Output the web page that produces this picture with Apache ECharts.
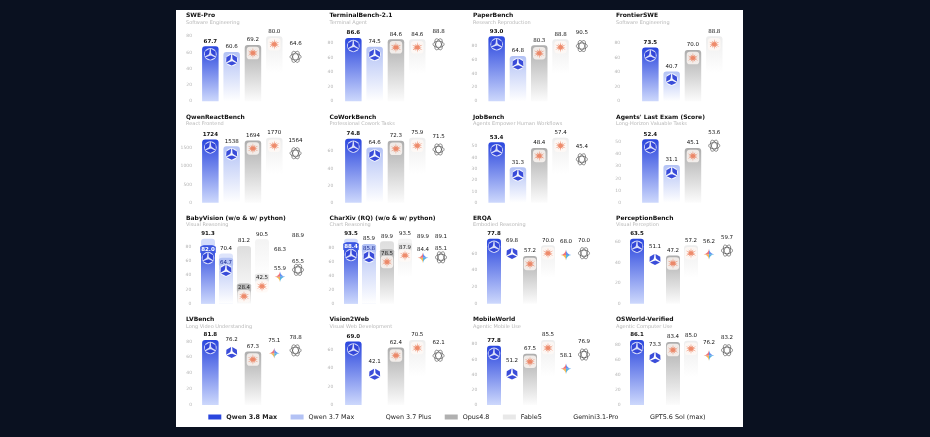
<!DOCTYPE html>
<html><head><meta charset="utf-8">
<style>html,body{margin:0;padding:0;background:#0a1120}#c{width:930px;height:437px}</style>
<script src="https://cdn.jsdelivr.net/npm/echarts@6/dist/echarts.min.js"></script>
</head><body><div id="c"></div>
<script>
const benchmarks = ['SWE-Pro','TerminalBench-2.1','PaperBench','FrontierSWE','QwenReactBench','CoWorkBench','JobBench',"Agents' Last Exam (Score)",'BabyVision (w/o & w/ python)','CharXiv (RQ) (w/o & w/ python)','ERQA','PerceptionBench','LVBench','Vision2Web','MobileWorld','OSWorld-Verified'];
const subtitles = ['Software Engineering','Terminal Agent','Research Reproduction','Software Engineering','React Frontend','Professional Cowork Tasks','Agents Empower Human Workflows','Long-Horizon Valuable Tasks','Visual Reasoning','Chart Reasoning','Embodied Reasoning','Visual Perception','Long Video Understanding','Visual Web Development','Agentic Mobile Use','Agentic Computer Use'];
const modelNames = ['Qwen 3.8 Max','Qwen 3.7 Max','Qwen 3.7 Plus','Opus4.8','Fable5','Gemini3.1-Pro','GPT5.6 Sol (max)'];
const qwen38 =  [67.7,86.6,93.0,73.5,1724,74.8,53.4,52.4,82.0,88.4,77.8,63.5,81.8,69.0,77.8,86.1];
const qwen37 =  [60.6,74.5,64.8,40.7,1538,64.6,31.3,31.1,64.7,85.8,null,null,null,null,null,null];
const plus37 =  [null,null,null,null,null,null,null,null,null,null,69.8,51.1,76.2,42.1,51.2,73.3];
const opus48 =  [69.2,84.6,80.3,70.0,1694,72.3,48.4,45.1,28.4,78.5,57.2,47.2,67.3,62.4,67.5,83.4];
const fable5 =  [80.0,84.6,88.8,88.8,1770,75.9,57.4,null,42.5,87.9,70.0,57.2,null,70.5,85.5,85.0];
const gemini =  [null,null,null,null,null,null,null,null,55.9,84.4,68.0,56.2,75.1,null,58.1,76.2];
const gpt56 =   [64.6,88.8,90.5,null,1564,71.5,45.4,53.6,65.5,85.1,70.0,59.7,78.8,62.1,76.9,83.2];
const python38 = [null,null,null,null,null,null,null,null,91.3,93.5,null,null,null,null,null,null];
const python37 = [null,null,null,null,null,null,null,null,70.4,85.9,null,null,null,null,null,null];
const pythonOpus = [null,null,null,null,null,null,null,null,81.2,89.9,null,null,null,null,null,null];
const pythonFable = [null,null,null,null,null,null,null,null,90.5,93.5,null,null,null,null,null,null];
const pythonGemini = [null,null,null,null,null,null,null,null,68.3,89.9,null,null,null,null,null,null];
const pythonGpt = [null,null,null,null,null,null,null,null,88.9,89.1,null,null,null,null,null,null];
const tickSteps = [20,20,20,20,500,20,10,10,20,20,20,20,20,20,20,20];

const series_values = [qwen38,qwen37,plus37,opus48,fable5,gemini,gpt56];
const python_values = [python38,python37,null,pythonOpus,pythonFable,pythonGemini,pythonGpt];

/* layout */
const F='"DejaVu Sans"';
const colX=[186,329.5,473,616];
const titleTop=[12.8,114.2,215.2,316.8];
const baseY=[101.3,202.7,303.7,405];
const H=65;
const gridLeft=[199.7,342.7,486,639.7, 199.7,342.7,486,639.7, 199,342,485,628, 199.7,342.7,485,628];
const labelGap=[7.7,9.4,8.7,19.5, 7.7,9.4,8.7,18.7, 7.7,7.7,7.7,7.3, 7.7,9.4,7.7,7.3];

/* styles per model: top, bottom, stop */
const grad=(a,b,s)=>({type:'linear',x:0,y:0,x2:0,y2:1,colorStops:[{offset:0,color:a},{offset:s,color:b},{offset:1,color:b}]});
const barFill=[grad('#2a46de','#cdd8fc',1),grad('#b3c2f5','#ffffff',1),null,grad('#adadad','#fcfcfc',1),grad('#ededed','#ffffff',.56),null,null];
const outerFill=[grad('#d3dcfb','#d3dcfb',1),grad('#dde4fb','#dde4fb',1),null,grad('#dedede','#ffffff',1),grad('#f3f3f3','#ffffff',.6),null,null];
const legendColor=['#2a46de','#b3c2f5','transparent','#b0b0b0','#e8e8e8','transparent','transparent'];
const innerLabel=[{c:'#fff',b:'#3d58e2'},{c:'#1b2a90',b:'#b3c2f5'},{c:'#222'},{c:'#222',b:'#bbbbbb'},{c:'#222',b:'#e8e8e8'},{c:'#222'},{c:'#222'}];

/* icon shapes */
const poly=p=>p.map((q,i)=>(i?'L':'M')+q[0].toFixed(2)+' '+q[1].toFixed(2)).join(' ')+' Z ';
const pol=(r,a)=>[50+r*Math.cos(a*Math.PI/180),50+r*Math.sin(a*Math.PI/180)];
const qwenPath='path://'+[0,120,240].map(t=>poly([[50,-85],[50,-30],[50,25],[18,5],[12,-55]].map(q=>pol(q[0],q[1]+t)))).join('');
const burstPts=[];for(let i=0;i<12;i++){const a=i*30-90;burstPts.push(pol(i%2?40:50,a));burstPts.push(pol(17,a+15));}
const burstPath='path://'+poly(burstPts);
let knot='';[0,60,120].forEach(t=>{const r=t*Math.PI/180,p=[];for(let i=0;i<32;i++){const u=i/32*2*Math.PI,x=48*Math.cos(u),y=24*Math.sin(u);p.push([50+x*Math.cos(r)-y*Math.sin(r),50+x*Math.sin(r)+y*Math.cos(r)]);}knot+=poly(p);});
const knotPath='path://'+knot;
const box='M0 0 L0 0 Z M100 100 L100 100 Z ';
const gemPieces=[
 ['path://'+box+'M50 0 C54 28 72 46 100 50 L50 50 Z','#3c74ee'],
 ['path://'+box+'M100 50 C72 54 54 72 50 100 L50 50 Z','#2aa0d8'],
 ['path://'+box+'M50 100 C46 72 28 54 0 50 L50 50 Z','#f0a830'],
 ['path://'+box+'M0 50 C28 46 46 28 50 0 L50 50 Z','#e8505b']];

const grids=[],xAxes=[],yAxes=[],titles=[],series=[];
benchmarks.forEach((name,p)=>{
  const row=Math.floor(p/4),col=p%4;
  const present=[];series_values.forEach((a,m)=>{if(a[p]!=null)present.push(m);});
  const n=present.length,pitch=n===6?18:21.3,bw=n===6?14:16.5;
  const all=[];present.forEach(m=>{all.push(series_values[m][p]);if(python_values[m]&&python_values[m][p]!=null)all.push(python_values[m][p]);});
  const top=Math.max(...all),step=tickSteps[p];
  titles.push({left:colX[col],top:titleTop[row],text:name,subtext:subtitles[p],padding:0,itemGap:1.2,
    textStyle:{fontFamily:F,fontSize:6,fontWeight:'bold',color:'#111'},
    subtextStyle:{fontFamily:F,fontSize:5,color:'#b8b8b8'}});
  grids.push({left:gridLeft[p],top:baseY[row]-H,width:pitch*n,height:H,containLabel:false});
  xAxes.push({type:'category',gridIndex:p,show:false,boundaryGap:true,data:present.map(m=>modelNames[m])});
  yAxes.push({type:'value',gridIndex:p,min:0,max:top,interval:step,splitLine:{show:false},axisLine:{show:false},axisTick:{show:false},
    axisLabel:{fontFamily:F,fontSize:4.5,color:'#b4b4b4',margin:labelGap[p],showMaxLabel:top%step===0,showMinLabel:true,formatter:v=>String(v)}});
  present.forEach((m,k)=>{
    const v=series_values[m][p],py=python_values[m]?python_values[m][p]:null,hasPy=py!=null;
    const bold=m===0;
    const slot=x=>present.map((_,i)=>i===k?x:null);
    const labelBase={show:true,fontFamily:F,fontSize:5.5,color:'#111',fontWeight:bold?'bold':'normal',formatter:o=>o.value>=1000?String(o.value):Number(o.value).toFixed(1)};
    if(hasPy){
      series.push({type:'bar',name:modelNames[m],xAxisIndex:p,yAxisIndex:p,barWidth:bw,barGap:'-100%',data:slot(py),silent:true,
        itemStyle:{color:outerFill[m]||'transparent',borderRadius:[3,3,0,0]},
        label:Object.assign({},labelBase,{position:'top',distance:2})});
    }
    const il=innerLabel[m];
    series.push({type:'bar',name:modelNames[m],xAxisIndex:p,yAxisIndex:p,barWidth:bw,barGap:'-100%',data:slot(v),silent:true,z:3,
      itemStyle:{color:barFill[m]||'transparent',borderRadius:[3,3,0,0]},
      label:hasPy?Object.assign({},labelBase,{position:'insideTop',distance:1,color:il.c,backgroundColor:il.b||'transparent',borderRadius:1,padding:[0.5,1]})
                 :Object.assign({},labelBase,{position:'top',distance:2})});
    const off=hasPy?12.8:8;
    const pt=[[k,v]];
    const scatter=(sym,size,style)=>series.push({type:'scatter',xAxisIndex:p,yAxisIndex:p,data:pt,symbol:sym,symbolSize:size,symbolOffset:[0,off],clip:false,silent:true,z:4,itemStyle:style});
    if(m<=2){
      if(m<2)scatter('circle',12.5,{color:'#ffffff'});
      scatter(qwenPath,11,{color:'#0a20cf'});
    }else if(m<=4){
      scatter('roundRect',12.5,{color:'#fff9f5'});
      scatter(burstPath,10.5,{color:'#ea6f48'});
    }else if(m===5){
      gemPieces.forEach(g=>scatter(g[0],10.5,{color:g[1]}));
    }else{
      scatter(knotPath,11,{color:'rgba(0,0,0,0)',borderColor:'#333',borderWidth:.7});
    }
  });
});

const chart=echarts.init(document.getElementById('c'),null,{renderer:'canvas'});
chart.setOption({
  animation:false,backgroundColor:'#0a1120',tooltip:{show:false},
  graphic:[{type:'rect',z:-1,silent:true,shape:{x:176,y:10,width:567,height:417},style:{fill:'#ffffff'}}],
  title:titles,grid:grids,xAxis:xAxes,yAxis:yAxes,series,
  legend:{left:208.3,top:414,orient:'horizontal',width:700,padding:0,itemGap:13.5,itemWidth:13,itemHeight:5,selectedMode:false,
    textStyle:{fontFamily:F,fontSize:6.4,color:'#222'},
    data:modelNames.map((nm,i)=>({name:nm,icon:'rect',itemStyle:{color:legendColor[i],borderWidth:0},
      textStyle:{fontFamily:F,fontSize:6.4,color:'#222',fontWeight:i===0?'bold':'normal'}}))}
});
</script></body></html>
